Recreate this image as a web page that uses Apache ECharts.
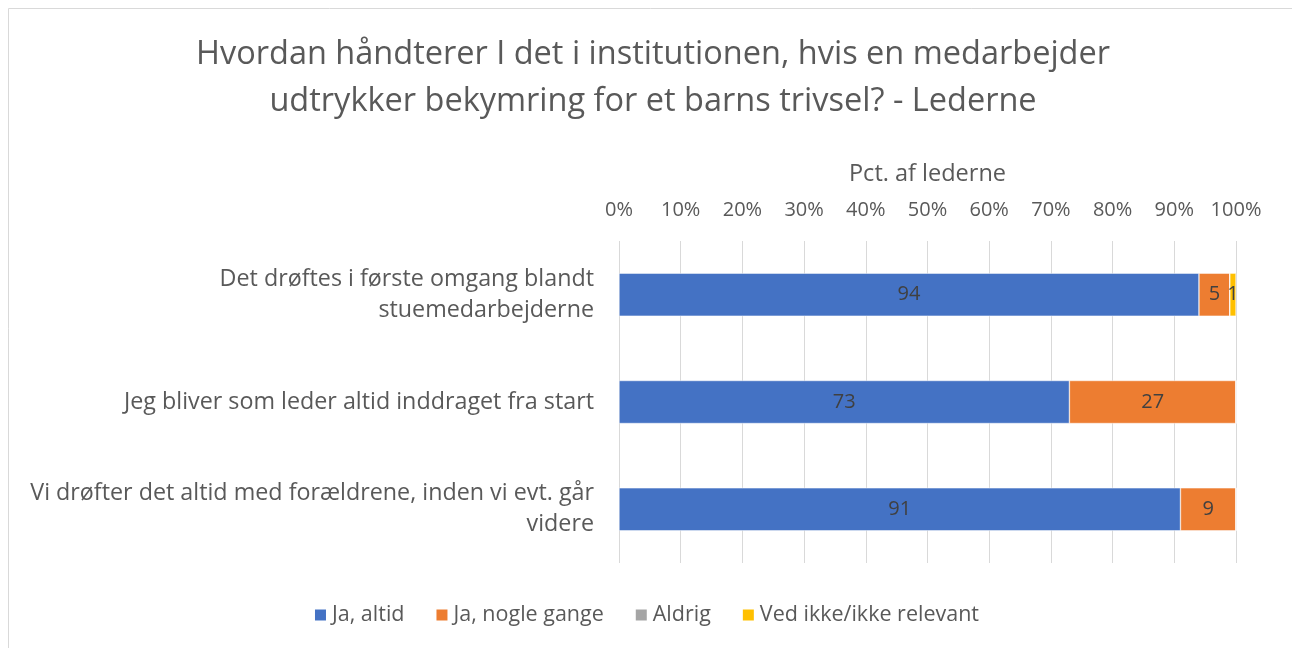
<!DOCTYPE html>
<html><head><meta charset="utf-8">
<script src="https://cdn.jsdelivr.net/npm/echarts@6/dist/echarts.min.js"></script>
<style>html,body{margin:0;padding:0;background:#fff}#c{width:1292px;height:648px}</style>
</head><body><div id="c"></div>
<script>
const categories = [
  "Det drøftes i første omgang blandt\nstuemedarbejderne",
  "Jeg bliver som leder altid inddraget fra start",
  "Vi drøfter det altid med forældrene, inden vi evt. går\nvidere"
];
const seriesNames = ["Ja, altid", "Ja, nogle gange", "Aldrig", "Ved ikke/ikke relevant"];
const jaAltid = [94, 73, 91];
const jaNogleGange = [5, 27, 9];
const aldrig = [0, 0, 0];
const vedIkke = [1, 0, 0];
const colors = ["#4472C4", "#ED7D31", "#A5A5A5", "#FFC000"];
const font = "'Open Sans', sans-serif";

const values = [jaAltid, jaNogleGange, aldrig, vedIkke];
const chart = echarts.init(document.getElementById('c'));
chart.setOption({
  animation: false,
  textStyle: {fontFamily: font},
  graphic: [{type: 'rect', shape: {x: 8.5, y: 8.5, width: 1300, height: 660}, style: {fill: 'none', stroke: '#d9d9d9', lineWidth: 1}}],
  title: {
    text: "Hvordan håndterer I det i institutionen, hvis en medarbejder\nudtrykker bekymring for et barns trivsel? - Lederne",
    left: 648, top: 26, textAlign: 'center',
    textStyle: {fontFamily: font, fontSize: 32.5, fontWeight: 'normal', color: '#595959', lineHeight: 47}
  },
  legend: {
    bottom: 17, left: 'center', itemWidth: 13, itemHeight: 13, itemGap: 30, icon: 'rect',
    textStyle: {fontFamily: font, fontSize: 21.5, color: '#595959'},
    data: seriesNames
  },
  grid: {left: 619, right: 56, top: 241, bottom: 85},
  xAxis: {
    type: 'value', position: 'top', min: 0, max: 100, interval: 10,
    name: 'Pct. af lederne', nameLocation: 'middle', nameGap: 55,
    nameTextStyle: {fontFamily: font, fontSize: 23.5, color: '#595959'},
    axisLabel: {formatter: '{value}%', fontFamily: font, fontSize: 20, color: '#595959', margin: 21},
    axisLine: {show: false}, axisTick: {show: false},
    splitLine: {lineStyle: {color: '#d9d9d9'}}
  },
  yAxis: {
    type: 'category', inverse: true, data: categories,
    axisLine: {show: false}, axisTick: {show: false},
    axisLabel: {fontFamily: font, fontSize: 23.3, color: '#595959', margin: 25, align: 'right', lineHeight: 31}
  },
  series: seriesNames.map((n, i) => ({
    name: n, type: 'bar', stack: 'tot', barWidth: 43,
    itemStyle: {color: colors[i], borderColor: '#fff', borderWidth: 0.5},
    label: {show: true, position: 'inside', fontFamily: font, fontSize: 20, color: '#404040',
      formatter: p => p.value > 0 ? p.value : ''},
    data: values[i]
  }))
});
</script></body></html>
